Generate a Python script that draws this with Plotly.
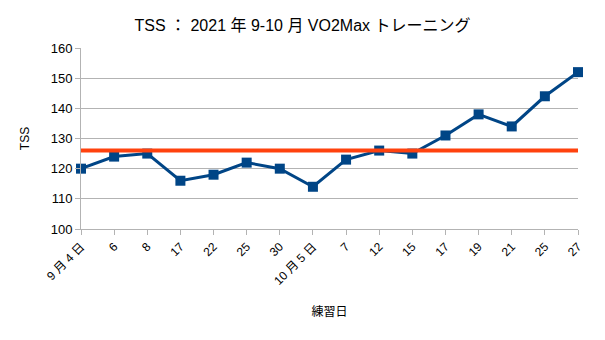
import plotly.graph_objects as go

labels = ["9 月 4 日", "6", "8", "17", "22", "25", "30", "10 月 5 日",
          "7", "12", "15", "17", "19", "21", "25", "27"]
tss = [120, 124, 125, 116, 118, 122, 120, 114, 123, 126, 125, 131, 138, 134, 144, 152]
avg_tss = 126
x_idx = list(range(len(labels)))

fig = go.Figure()
fig.add_trace(go.Scatter(x=x_idx, y=tss, mode="lines+markers",
                         line=dict(color="#004586", width=3),
                         marker=dict(symbol="square", size=10, color="#004586"),
                         showlegend=False, cliponaxis=False))
fig.add_trace(go.Scatter(x=x_idx, y=[avg_tss] * len(x_idx), mode="lines",
                         line=dict(color="#ff420e", width=4), showlegend=False,
                         hoverinfo="skip", cliponaxis=False))

font_family = "Liberation Sans, Noto Sans CJK JP, sans-serif"
fig.update_layout(
    width=605, height=340,
    margin=dict(l=81, r=27, t=48, b=111),
    paper_bgcolor="white", plot_bgcolor="white",
    font=dict(family=font_family, size=12, color="black"),
    title=dict(text="TSS ： 2021 年 9-10 月 VO2Max トレーニング",
               x=0.5, xanchor="center", y=0.925, yanchor="middle",
               font=dict(size=16, family=font_family, color="black")),
    xaxis=dict(range=[0, 15], tickmode="array", tickvals=x_idx, ticktext=labels,
               tickangle=-45, showgrid=False, showline=True, linecolor="#b3b3b3",
               ticks="outside", ticklen=5, tickcolor="#b3b3b3",
               title=dict(text="練習日", font=dict(size=12), standoff=20),
               zeroline=False, fixedrange=True),
    yaxis=dict(range=[100, 160], dtick=10, showgrid=True, gridcolor="#b3b3b3",
               showline=True, linecolor="#b3b3b3", ticks="outside", ticklen=5,
               tickcolor="#b3b3b3", zeroline=False,
               title=dict(text="TSS", font=dict(size=12), standoff=18),
               tickfont=dict(size=13)),
)
fig.write_html("out.html")
